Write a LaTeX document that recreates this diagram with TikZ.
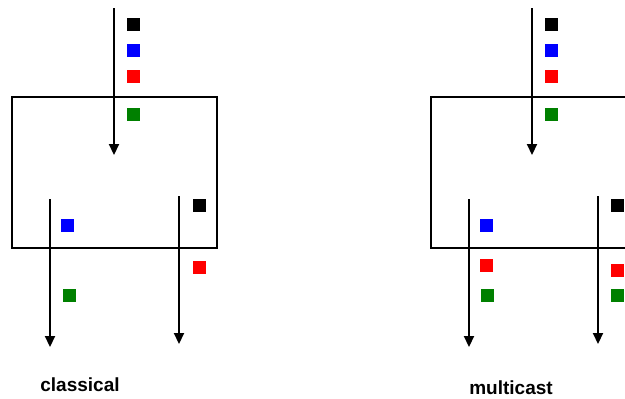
\documentclass[tikz,border=0pt]{standalone}
\usepackage{fontspec}
\setmainfont{Liberation Sans}
\usetikzlibrary{arrows.meta}
\definecolor{pktgreen}{RGB}{0,128,0}
\tikzset{
  frame/.style={draw=black,line width=2.2pt},
  flow/.style={draw=black,line width=2.2pt,-{Triangle[length=11pt,width=10pt]}},
  pkt/.style={fill=#1,draw=none,minimum size=13pt,inner sep=0pt,anchor=north west},
  lbl/.style={font=\bfseries\fontsize{19}{22}\selectfont,inner sep=0pt}
}
\begin{document}
\begin{tikzpicture}[x=1pt,y=-1pt]
\useasboundingbox (0,0) rectangle (625,399);
\clip (0,0) rectangle (625,399);
% ---------- classical ----------
\node[frame,minimum width=205pt,minimum height=151pt,inner sep=0pt,anchor=north west] (boxA) at (11,96) {};
\coordinate (inA) at (114,8);
\coordinate (inAend) at (114,155);
\draw[flow] (inA) -- (inAend);
\node[pkt=black] (a1) at (127,18) {};
\node[pkt=blue] (a2) at (127,44) {};
\node[pkt=red] (a3) at (127,70) {};
\node[pkt=pktgreen] (a4) at (127,108) {};
\coordinate (outAL) at (50,199);
\coordinate (outALend) at (50,347);
\draw[flow] (outAL) -- (outALend);
\coordinate (outAR) at (179,196);
\coordinate (outARend) at (179,344);
\draw[flow] (outAR) -- (outARend);
\node[pkt=blue] (a5) at (61,219) {};
\node[pkt=pktgreen] (a6) at (63,289) {};
\node[pkt=black] (a7) at (193,199) {};
\node[pkt=red] (a8) at (193,261) {};
\node[lbl] (labA) at (80,385) {classical};
% ---------- multicast ----------
\node[frame,minimum width=215pt,minimum height=151pt,inner sep=0pt,anchor=north west] (boxB) at (430,96) {};
\coordinate (inB) at (532,8);
\coordinate (inBend) at (532,155);
\draw[flow] (inB) -- (inBend);
\node[pkt=black] (b1) at (545,18) {};
\node[pkt=blue] (b2) at (545,44) {};
\node[pkt=red] (b3) at (545,70) {};
\node[pkt=pktgreen] (b4) at (545,108) {};
\coordinate (outBL) at (469,199);
\coordinate (outBLend) at (469,347);
\draw[flow] (outBL) -- (outBLend);
\coordinate (outBR) at (598,196);
\coordinate (outBRend) at (598,344);
\draw[flow] (outBR) -- (outBRend);
\node[pkt=blue] (b5) at (480,219) {};
\node[pkt=red] (b6) at (480,259) {};
\node[pkt=pktgreen] (b7) at (481,289) {};
\node[pkt=black] (b8) at (611,199) {};
\node[pkt=red] (b9) at (611,264) {};
\node[pkt=pktgreen] (b10) at (611,289) {};
\node[lbl] (labB) at (511,388) {multicast};
\end{tikzpicture}
\end{document}
